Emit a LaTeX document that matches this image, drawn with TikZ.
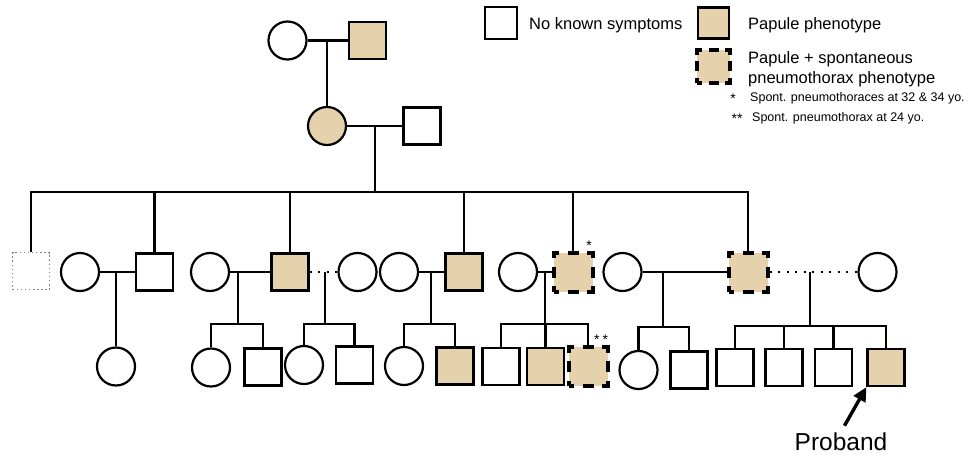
\documentclass[tikz,border=0pt]{standalone}
\usepackage{fontspec}
\setmainfont{Liberation Sans}
\usetikzlibrary{arrows.meta}
\definecolor{papule}{RGB}{229,210,172}
\tikzset{
>=Stealth,
fem/.style={circle,draw,line width=2.2pt,minimum size=38pt,inner sep=0pt},
mal/.style={rectangle,draw,line width=2.2pt,minimum size=37pt,inner sep=0pt},
aff/.style={fill=papule},
pnx/.style={mal,fill=papule,minimum size=39pt,line width=4pt,dash pattern=on 11pt off 8.5pt,dash phase=5.5pt},
unk/.style={mal,draw=gray,line width=1.5pt,dash pattern=on 1.5pt off 2.6pt},
rel/.style={line width=2.2pt},
sep/.style={line width=2.2pt,dash pattern=on 2pt off 6.5pt},
legtxt/.style={anchor=west,inner sep=0pt,align=left,font=\fontsize{16.5}{20}\selectfont},
notetxt/.style={anchor=west,inner sep=0pt,font=\fontsize{12.5}{14}\selectfont},
startxt/.style={inner sep=0pt,font=\fontsize{14}{14}\selectfont},
pbarrow/.style={-{Triangle[length=14pt,width=13pt]},line width=3.4pt,shorten <=7pt}}

\begin{document}
\begin{tikzpicture}[x=1pt,y=-1pt]
\useasboundingbox (0,0) rectangle (968,455);

% generation I and II
\node[fem] (a1) at (287.5,40.5) {};
\node[mal,aff] (a2) at (367.5,40.5) {};
\node[fem,aff] (b1) at (327,126) {};
\node[mal] (b2) at (422,126) {};
\coordinate (u1) at (327,40.5);
\coordinate (u2) at (375,126);
\coordinate (s2) at (375,192);

% generation III
\node[unk] (c1) at (31,271) {};
\node[fem] (c2) at (80,272) {};
\node[mal] (c3) at (154.5,272) {};
\node[fem] (c4) at (210,272) {};
\node[mal,aff] (c5) at (290,272) {};
\node[fem] (c6) at (357.5,272) {};
\node[fem] (c7) at (399,272) {};
\node[mal,aff] (c8) at (464,272) {};
\node[fem] (c9) at (518,272) {};
\node[pnx] (c10) at (573,272) {};
\node[fem] (c11) at (622.5,272) {};
\node[pnx] (c12) at (748,272) {};
\node[fem] (c13) at (877.5,272) {};
\node[startxt] (st1) at (589,246) {*};

% generation IV
\node[fem] (d1) at (116,366.5) {};
\node[fem] (d2) at (211,367.5) {};
\node[mal] (d3) at (263,367) {};
\node[fem] (d4) at (304,365) {};
\node[mal] (d5) at (354.5,365) {};
\node[fem] (d6) at (404,366) {};
\node[mal,aff] (d7) at (455,366) {};
\node[mal] (d8) at (501,366.5) {};
\node[mal,aff] (d9) at (545.5,366.5) {};
\node[pnx] (d10) at (588,366.5) {};
\node[fem] (d11) at (638.5,370) {};
\node[mal] (d12) at (689,370) {};
\node[mal] (d13) at (735,367.5) {};
\node[mal] (d14) at (784,367.5) {};
\node[mal] (d15) at (833.5,367.5) {};
\node[mal,aff] (d16) at (886,367.5) {};
\node[startxt] (st2) at (601,340) {*\hspace{3pt}*};

\coordinate (u3) at (116,272);
\coordinate (u4) at (238,272);  \coordinate (s4) at (238,324);
\coordinate (u5) at (325,272);  \coordinate (s5) at (325,324);
\coordinate (u6) at (430.7,272); \coordinate (s6) at (430.7,324);
\coordinate (u7) at (545,272);  \coordinate (s7) at (545,324);
\coordinate (u8) at (662.7,272); \coordinate (s8) at (662.7,327);
\coordinate (u9) at (810,272);  \coordinate (s9) at (810,325.7);

% couples
\draw[rel] (a1) -- (a2);
\draw[rel] (b1) -- (b2);
\draw[rel] (c2) -- (c3);
\draw[rel] (c4) -- (c5);
\draw[sep] (c5) -- (c6);
\draw[rel] (c7) -- (c8);
\draw[rel] (c9) -- (c10);
\draw[rel] (c11) -- (c12);
\draw[sep] (c12) -- (c13);

% descent
\draw[rel] (u1) -- (b1);
\draw[rel] (u2) -- (s2);
\foreach \k in {c1,c3,c5,c8,c10,c12} \draw[rel] (\k) |- (s2);
\draw[rel] (u3) -- (d1);
\draw[rel] (u4) -- (s4);
\foreach \k in {d2,d3} \draw[rel] (\k) |- (s4);
\draw[rel] (u5) -- (s5);
\foreach \k in {d4,d5} \draw[rel] (\k) |- (s5);
\draw[rel] (u6) -- (s6);
\foreach \k in {d6,d7} \draw[rel] (\k) |- (s6);
\draw[rel] (u7) -- (s7);
\foreach \k in {d8,d9,d10} \draw[rel] (\k) |- (s7);
\draw[rel] (u8) -- (s8);
\foreach \k in {d11,d12} \draw[rel] (\k) |- (s8);
\draw[rel] (u9) -- (s9);
\foreach \k in {d13,d14,d15,d16} \draw[rel] (\k) |- (s9);

% proband
\node[inner sep=1pt,font=\fontsize{24.5}{28}\selectfont] (pb) at (841,442) {Proband};
\draw[pbarrow] (pb.north) -- (d16.south west);

% legend
\node[mal,minimum size=32pt] (l1) at (501,23) {};
\node[legtxt] (t1) at (529,25) {No known symptoms};
\node[mal,aff,minimum size=31pt] (l2) at (713.5,23) {};
\node[legtxt] (t2) at (748,25) {Papule phenotype};
\node[pnx,minimum size=33pt,dash pattern=on 10pt off 6.5pt,dash phase=5pt] (l3) at (713.5,66) {};
\node[legtxt] (t3) at (748,69) {Papule + spontaneous\\pneumothorax phenotype};
\node[startxt] (n1) at (733,99) {*};
\node[notetxt] (t4) at (750,98) {Spont. pneumothoraces at 32 \& 34 yo.};
\node[startxt] (n2) at (737,119) {**};
\node[notetxt] (t5) at (752,118) {Spont. pneumothorax at 24 yo.};

\end{tikzpicture}
\end{document}
